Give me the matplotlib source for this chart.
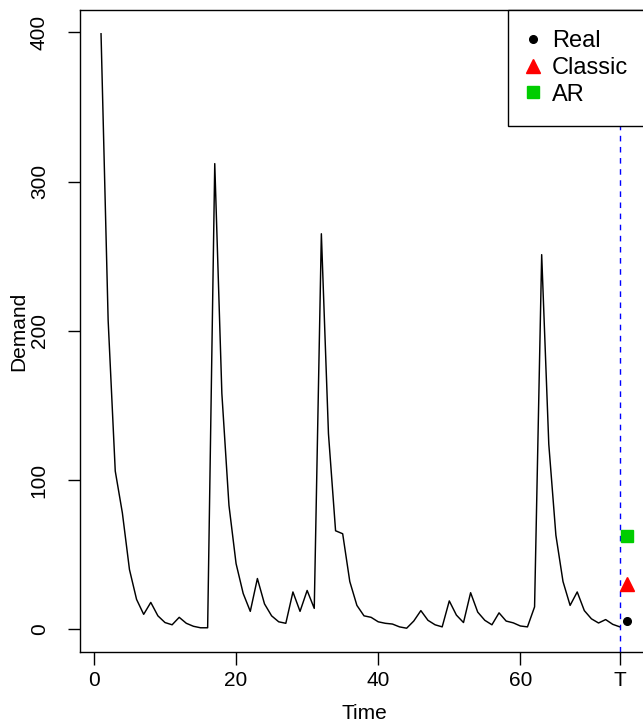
import numpy as np
import matplotlib
matplotlib.use("Agg")
import matplotlib.pyplot as plt

plt.rcParams['font.family'] = ['Liberation Sans', 'DejaVu Sans']

# demand series
demand = [399, 207, 106, 78, 40, 20, 10, 18, 9, 4.5,
          3, 8, 4, 2, 1, 1, 312, 158, 83, 44,
          24, 12, 34, 17, 9, 5, 4, 25, 12, 26,
          14, 265, 131, 66, 64, 32, 16, 9, 8, 5,
          4, 3.5, 1.6, 0.7, 5.5, 12.5, 6, 3, 1.6, 19,
          9.5, 4.5, 24.5, 11.5, 6, 3, 11, 5.5, 4.3, 2.2,
          1.6, 15, 251, 124, 63, 32, 16, 25, 12.5, 7,
          4.2, 6.5, 3.3, 1.6]
time = np.arange(1, len(demand) + 1)
T = len(demand)

# forecasts at T+1
fc_names = ["Real", "Classic", "AR"]
fc_values = [5.6, 30.5, 62.5]
fc_colors = ["black", "#FF0000", "#00CD00"]
fc_markers = ["o", "^", "s"]
fc_sizes = [5.5, 10, 8.5]

xtick_pos = [0, 20, 40, 60, T]
xtick_lab = ["0", "20", "40", "60", "T"]
ytick_pos = [0, 100, 200, 300, 400]

W, H = 643, 727
fig = plt.figure(figsize=(W / 100, H / 100), dpi=100)
# axes box in pixels (right edge runs past the image, as in the reference)
left, right, top, bottom = 80, 648, 10, 652
ax = fig.add_axes([left / W, (H - bottom) / H, (right - left) / W, (bottom - top) / H])

ax.plot(time, demand, color="black", lw=1.05)
ax.axvline(T, color="#0000FF", lw=1.0, ls=(0, (4, 4)))
handles = []
for name, v, c, m, s in zip(fc_names, fc_values, fc_colors, fc_markers, fc_sizes):
    h, = ax.plot([T + 1], [v], ls="none", marker=m, color=c, ms=s, label=name)
    handles.append(h)

# R style 4% padding
allx = list(time) + [T + 1]
ally = demand + fc_values
dx = (max(allx) - min(allx)) * 0.04
dy = (max(ally) - min(ally)) * 0.04
ax.set_xlim(min(allx) - dx, max(allx) + dx)
ax.set_ylim(min(ally) - dy, max(ally) + dy)

ax.set_xticks(xtick_pos)
ax.set_xticklabels(xtick_lab)
ax.set_yticks(ytick_pos)
ax.tick_params(axis="both", direction="out", length=9, width=1.0, labelsize=15)
ax.tick_params(axis="x", pad=5)
ax.tick_params(axis="y", pad=13.5)
for lab in ax.get_yticklabels():
    lab.set_rotation(90)
    lab.set_va("center")
for sp in ax.spines.values():
    sp.set_linewidth(1.0)

ax.set_xlabel("Time", fontsize=15, labelpad=10)
ax.set_ylabel("Demand", fontsize=15, labelpad=1)

leg = ax.legend(handles=handles, loc="upper right", fontsize=17, frameon=True,
                fancybox=False, edgecolor="black", framealpha=1, borderaxespad=0,
                handlelength=0.42, handletextpad=0.6, labelspacing=0.2,
                borderpad=0.85)
leg.get_frame().set_linewidth(1.0)

fig.savefig("out.png", dpi=100)
